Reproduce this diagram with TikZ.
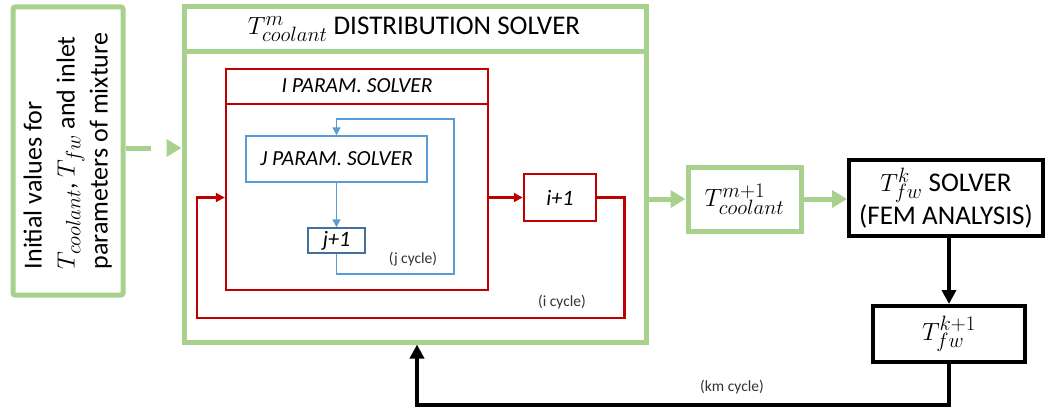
\documentclass[tikz,border=0pt]{standalone}
\usepackage{fontspec}
\setmainfont{Carlito}
\usetikzlibrary{arrows.meta}
\definecolor{lgreen}{HTML}{A9D18E}
\definecolor{dred}{HTML}{C00000}
\definecolor{lblue}{HTML}{5B9BD5}
\definecolor{dblue}{HTML}{41719C}
\newcommand{\mathsz}[2]{{\fontsize{#1}{#1}\selectfont$#2$}}
\tikzset{
  gbox/.style={draw=lgreen, line width=5pt, fill=white, inner sep=0pt},
  rbox/.style={draw=dred, line width=2.5pt, fill=white, inner sep=0pt},
  bbox/.style={draw=lblue, line width=1.5pt, fill=white, inner sep=0pt},
  kbox/.style={draw=black, line width=4pt, fill=white, inner sep=0pt, align=center},
  garrow/.style={draw=lgreen, line width=5pt, -{Triangle[length=15pt,width=17pt]}},
  rarrow/.style={draw=dred, line width=2.5pt, -{Triangle[length=9pt,width=9pt]}},
  barrow/.style={draw=lblue, line width=1.5pt, -{Triangle[length=8pt,width=8pt]}},
  karrow/.style={draw=black, line width=4pt, -{Triangle[length=14pt,width=14pt]}},
  small/.style={font=\fontsize{15.5}{18}\selectfont, text=black!80},
}
\begin{document}
\begin{tikzpicture}[x=1pt,y=-1pt]
\useasboundingbox (0,0) rectangle (1047,412);
% left box
\node[gbox, rounded corners=2pt, minimum width=110pt, minimum height=288pt, align=center,
  font=\fontsize{26}{33}\selectfont] (init) at (68,151)
  {\rotatebox{90}{\begin{tabular}{@{}l@{}}Initial values for\\ \mathsz{29}{T_{coolant}}, \mathsz{29}{T_{fw}} and inlet\\ parameters of mixture\end{tabular}}};
% big box
\node[gbox, minimum width=462pt, minimum height=335pt] (big) at (415,174.5) {};
\draw[lgreen, line width=5pt] (big.west |- 0,52) -- (big.east |- 0,52);
\node[font=\fontsize{27}{30}\selectfont] (title) at (414,29) {\mathsz{30}{T^{m}_{coolant}} DISTRIBUTION SOLVER};
% red I box
\node[rbox, minimum width=262pt, minimum height=221pt] (Ibox) at (357,179.5) {};
\draw[dred, line width=2.5pt] (Ibox.west |- 0,104) -- (Ibox.east |- 0,104);
\node[font=\fontsize{21.5}{24}\selectfont\itshape] (Ititle) at (357,86) {I PARAM. SOLVER};
% J box
\node[bbox, minimum width=181pt, minimum height=46pt, font=\fontsize{21.5}{24}\selectfont\itshape] (J) at (336.5,159) {J PARAM. SOLVER};
\node[draw=dblue, line width=1.5pt, fill=white, inner sep=0pt, minimum width=57pt, minimum height=25pt, font=\fontsize{22}{24}\selectfont\itshape] (j1) at (336.5,240.5) {j+1};
\draw[barrow] (J.south) -- (j1.north);
\draw[barrow] (j1.south) -- ++(0,20) -| (454,119) -| (J.north);
\node[small] (jc) at (413,259) {(j cycle)};
% i+1
\node[rbox, minimum width=72pt, minimum height=47pt, font=\fontsize{22}{24}\selectfont\itshape] (i1) at (560,197.5) {i+1};
\draw[rarrow] (Ibox.east |- i1) -- (i1.west);
\draw[rarrow] (i1.east) -- ++(27,0) |- (197,318) |- (Ibox.west |- i1);
\node[small] (ic) at (562,302) {(i cycle)};
% T m+1
\node[gbox, minimum width=113pt, minimum height=64pt, font=\fontsize{30}{30}\selectfont] (Tm1) at (744.5,199) {$T^{m+1}_{coolant}$};
\draw[garrow] (big.east |- Tm1) -- (Tm1.west);
% FEM
\node[kbox, minimum width=194pt, minimum height=76pt, font=\fontsize{27}{33}\selectfont] (fem) at (946,198) {\mathsz{29}{T^{k}_{fw}} SOLVER\\(FEM ANALYSIS)};
\draw[garrow] (Tm1.east) -- (fem.west |- Tm1);
% T k+1
\node[kbox, minimum width=152pt, minimum height=56pt, font=\fontsize{28}{28}\selectfont] (Tk1) at (949,334) {$T^{k+1}_{fw}$};
\draw[karrow] (Tk1.north |- fem.south) -- (Tk1.north);
\draw[karrow] (Tk1.south) -- (Tk1.south |- 0,405) -| (big.south -| 417,0);
\node[small] (kc) at (732,387) {(km cycle)};
% dashed entry arrow
\draw[garrow, dash pattern=on 25pt off 80pt] (init.east |- 0,148) -- (big.west |- 0,148);
\end{tikzpicture}
\end{document}
